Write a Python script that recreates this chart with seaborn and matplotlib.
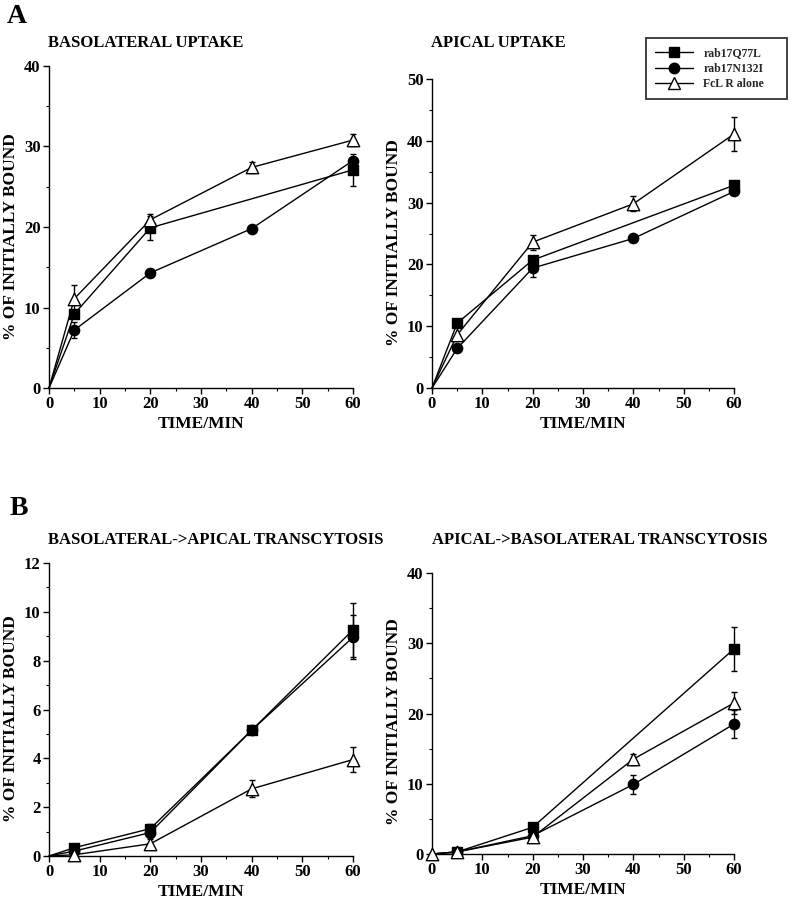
import numpy as np
import pandas as pd
import matplotlib
matplotlib.use("Agg")
import matplotlib.pyplot as plt
from matplotlib.lines import Line2D
from matplotlib.ticker import MultipleLocator
import seaborn as sns

sns.set_theme(style="ticks")
plt.rcParams['font.family'] = ['Liberation Serif', 'DejaVu Serif']
plt.rcParams['font.weight'] = 'bold'

# ---------------- data ----------------
times = [0, 5, 20, 40, 60]
series_names = ["rab17Q77L", "rab17N132I", "FcL R alone"]
nan = np.nan

# A: basolateral uptake
bl_up_q77l = [0, 9.2, 19.9, nan, 27.1]
bl_up_q77l_err = [0, 0, 1.5, 0, 2.0]
bl_up_n132i = [0, 7.2, 14.3, 19.8, 28.25]
bl_up_n132i_err = [0, 1.0, 0, 0, 0]
bl_up_fcl = [0, 11.1, 20.9, 27.4, 30.8]
bl_up_fcl_err = [0, 1.7, 0.7, 0.7, 0.8]

# A: apical uptake
ap_up_q77l = [0, 10.5, 20.7, nan, 32.8]
ap_up_q77l_err = [0, 0, 0, 0, 0]
ap_up_n132i = [0, 6.4, 19.4, 24.2, 31.8]
ap_up_n132i_err = [0, 0, 1.5, 0, 0]
ap_up_fcl = [0, 8.6, 23.6, 29.8, 41.1]
ap_up_fcl_err = [0, 0, 1.2, 1.2, 2.8]

# B: basolateral -> apical transcytosis
ba_tc_q77l = [0, 0.34, 1.12, 5.15, 9.26]
ba_tc_q77l_err = [0, 0, 0.2, 0, 1.1]
ba_tc_n132i = [0, 0.2, 0.96, 5.15, 8.96]
ba_tc_n132i_err = [0, 0, 0, 0, 0.9]
ba_tc_fcl = [0, 0.05, 0.5, 2.75, 3.95]
ba_tc_fcl_err = [0, 0, 0.2, 0.35, 0.5]

# B: apical -> basolateral transcytosis
ab_tc_q77l = [0, 0.3, 3.8, nan, 29.2]
ab_tc_q77l_err = [0, 0, 0, 0, 3.1]
ab_tc_n132i = [0, 0.3, 2.6, 9.9, 18.5]
ab_tc_n132i_err = [0, 0, 0, 1.3, 2.0]
ab_tc_fcl = [0, 0.3, 2.4, 13.5, 21.5]
ab_tc_fcl_err = [0, 0, 0, 0.8, 1.5]

titles = ["BASOLATERAL UPTAKE", "APICAL UPTAKE",
          "BASOLATERAL->APICAL TRANSCYTOSIS", "APICAL->BASOLATERAL TRANSCYTOSIS"]
ylims = [40, 50, 12, 40]
ymajor = [10, 10, 2, 10]
yminor = [5, 5, 1, 5]

panels = [
    [(bl_up_q77l, bl_up_q77l_err), (bl_up_n132i, bl_up_n132i_err), (bl_up_fcl, bl_up_fcl_err)],
    [(ap_up_q77l, ap_up_q77l_err), (ap_up_n132i, ap_up_n132i_err), (ap_up_fcl, ap_up_fcl_err)],
    [(ba_tc_q77l, ba_tc_q77l_err), (ba_tc_n132i, ba_tc_n132i_err), (ba_tc_fcl, ba_tc_fcl_err)],
    [(ab_tc_q77l, ab_tc_q77l_err), (ab_tc_n132i, ab_tc_n132i_err), (ab_tc_fcl, ab_tc_fcl_err)],
]

markers = {"rab17Q77L": "s", "rab17N132I": "o", "FcL R alone": "^"}
faces = {"rab17Q77L": "black", "rab17N132I": "black", "FcL R alone": "white"}
sizes = {"rab17Q77L": 48, "rab17N132I": 55, "FcL R alone": 80}

# ---------------- layout ----------------
W, H = 791, 900
fig = plt.figure(figsize=(W / 100, H / 100), dpi=100)
fig.patch.set_facecolor("white")

def rect(l, r, t, b):
    return [l / W, 1 - b / H, (r - l) / W, (b - t) / H]

rects = [rect(49, 353, 66, 388), rect(432, 734, 79, 388),
         rect(49, 353, 563, 856), rect(432, 734, 573, 854)]
title_pos = [(48, 47), (431, 47), (48, 544), (432, 544)]

for i, (pdata, r) in enumerate(zip(panels, rects)):
    ax = fig.add_axes(r)
    ax.set_facecolor("white")
    for (vals, errs), name in zip(pdata, series_names):
        df = pd.DataFrame({"time": times, "value": vals, "err": errs}).dropna()
        sns.lineplot(data=df, x="time", y="value", ax=ax, color="black",
                     linewidth=1.0, estimator=None, sort=False, zorder=2,
                     legend=False, clip_on=False)
        e = df[df["err"] > 0]
        if len(e):
            ax.errorbar(e["time"], e["value"], yerr=e["err"], fmt="none",
                        ecolor="black", elinewidth=1.0, capsize=2.5,
                        capthick=1.0, zorder=3, clip_on=False)
        if i == 3 and name == "FcL R alone":
            m = df
        else:
            m = df[df["time"] > 0]
        sns.scatterplot(data=m, x="time", y="value", ax=ax, marker=markers[name],
                        s=sizes[name], color=faces[name], edgecolor="black",
                        linewidth=1.0, zorder=4, legend=False, clip_on=False)
    ax.set_xlim(0, 60)
    ax.set_ylim(0, ylims[i])
    ax.xaxis.set_major_locator(MultipleLocator(10))
    ax.xaxis.set_minor_locator(MultipleLocator(5))
    ax.yaxis.set_major_locator(MultipleLocator(ymajor[i]))
    ax.yaxis.set_minor_locator(MultipleLocator(yminor[i]))
    sns.despine(ax=ax)
    for s in ["left", "bottom"]:
        ax.spines[s].set_color("black")
        ax.spines[s].set_linewidth(1.0)
    ax.tick_params(which="major", direction="out", length=4, width=1.0,
                   color="black", labelsize=12, pad=2)
    ax.tick_params(which="minor", direction="out", length=2.5, width=0.8,
                   color="black")
    for lab in ax.get_xticklabels() + ax.get_yticklabels():
        lab.set_fontweight("bold")
        lab.set_color("black")
    ax.set_xlabel("TIME/MIN", fontsize=12.5, fontweight="bold", color="black",
                  labelpad=3)
    ax.set_ylabel("% OF INITIALLY BOUND", fontsize=12.5, fontweight="bold",
                  color="black")
    ax.yaxis.set_label_coords(-0.10, 0.47)
    tx, ty = title_pos[i]
    fig.text(tx / W, 1 - ty / H, titles[i], fontsize=12, fontweight="bold",
             ha="left", va="baseline", color="black")
    if i == 1:
        handles = [Line2D([], [], color="black", linewidth=1.0, marker=markers[n],
                          markersize={"rab17Q77L": 7, "rab17N132I": 7.5, "FcL R alone": 9}[n],
                          markerfacecolor=faces[n], markeredgecolor="black",
                          markeredgewidth=1.0)
                   for n in series_names]
        leg = ax.legend(handles, series_names, loc="upper left",
                        bbox_to_anchor=(646 / W, 1 - 98 / H, 141 / W, 60 / H),
                        bbox_transform=fig.transFigure, mode="expand",
                        frameon=True, fancybox=False, edgecolor="black",
                        fontsize=8.5, handlelength=3.2, handletextpad=0.9,
                        labelspacing=0.32, borderpad=0.75, borderaxespad=0)
        leg.get_frame().set_linewidth(1.3)
        for t in leg.get_texts():
            t.set_fontweight("bold")

fig.text(7 / W, 1 - 23 / H, "A", fontsize=20, fontweight="bold", ha="left",
         va="baseline", color="black")
fig.text(10 / W, 1 - 515 / H, "B", fontsize=20, fontweight="bold", ha="left",
         va="baseline", color="black")

fig.savefig("out.png", dpi=100, facecolor="white")
